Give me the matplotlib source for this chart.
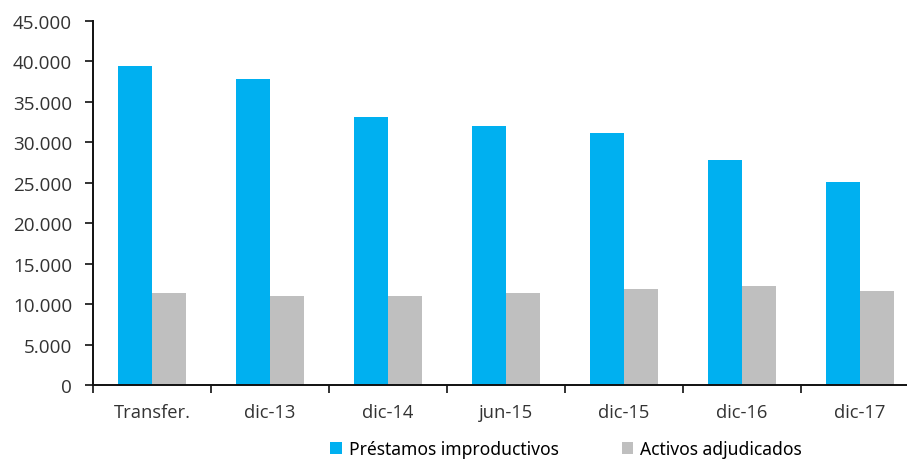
import matplotlib
matplotlib.use('Agg')
import matplotlib.pyplot as plt
from matplotlib.patches import Patch
from matplotlib.ticker import FuncFormatter
import numpy as np

# Datos (millones de euros)
periodos = ['Transfer.', 'dic-13', 'dic-14', 'jun-15', 'dic-15', 'dic-16', 'dic-17']
prestamos = [39400, 37800, 33100, 32050, 31150, 27800, 25100]
activos = [11330, 10960, 10960, 11330, 11830, 12200, 11660]

AZUL = '#00B0F0'
GRIS = '#BFBFBF'

plt.rcParams['font.family'] = ['Open Sans', 'DejaVu Sans']

fig = plt.figure(figsize=(9.07, 4.6), dpi=100)
ax = fig.add_axes([93 / 907, 1 - 386 / 460, 1 - 93 / 907, (386 - 22) / 460])

x = np.arange(len(periodos))
w = 0.288
ax.bar(x - w / 2, prestamos, w, color=AZUL)
ax.bar(x + w / 2, activos, w, color=GRIS)

ax.set_ylim(0, 45000)
ax.set_yticks(np.arange(0, 45001, 5000))
ax.yaxis.set_major_formatter(FuncFormatter(lambda v, p: f'{int(v):,}'.replace(',', '.')))
ax.set_xlim(-0.5, len(periodos) - 0.5 - 12 / 118)

# marcas entre categorias, etiquetas centradas
ax.set_xticks(np.arange(-0.5, len(periodos) - 0.5, 1.0))
ax.set_xticklabels([])
ax.set_xticks(x, minor=True)
ax.set_xticklabels(periodos, minor=True)
ax.tick_params(axis='x', which='minor', length=0, pad=13, labelsize=13.2, colors='#333333')
ax.tick_params(axis='x', which='major', length=6, width=1.3, direction='out', color='#222222')
ax.tick_params(axis='y', length=6, width=1.3, pad=9, labelsize=13.6, colors='#333333')
ax.tick_params(axis='y', color='#222222')

for s in ['top', 'right']:
    ax.spines[s].set_visible(False)
for s in ['left', 'bottom']:
    ax.spines[s].set_linewidth(1.4)
    ax.spines[s].set_color('#111111')

handles = [Patch(facecolor=AZUL, label='Préstamos improductivos'),
           Patch(facecolor=GRIS, label='Activos adjudicados')]
fig.legend(handles=handles, loc='center', bbox_to_anchor=(0.624, 0.022), ncol=2,
           frameon=False, handlelength=0.65, handleheight=0.65,
           handletextpad=0.4, columnspacing=3.6, labelcolor='#000000',
           prop={'family': ['Noto Sans', 'DejaVu Sans'], 'size': 12.6})

fig.savefig('out.png', dpi=100)
